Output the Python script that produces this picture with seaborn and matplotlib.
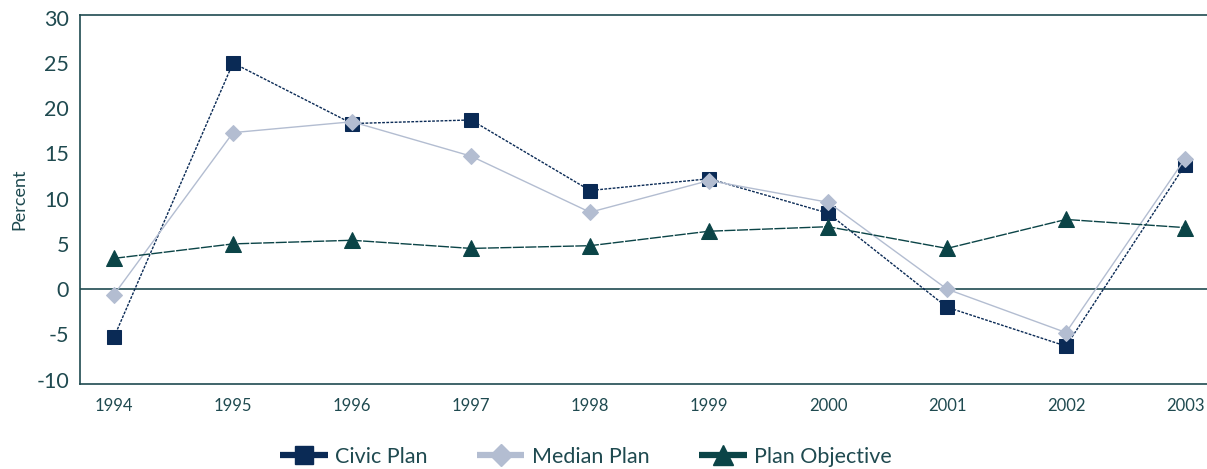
import matplotlib
matplotlib.use("Agg")
import matplotlib.pyplot as plt
import seaborn as sns
import pandas as pd
from matplotlib.lines import Line2D

years = [1994, 1995, 1996, 1997, 1998, 1999, 2000, 2001, 2002, 2003]
civic_plan = [-5.3, 25.0, 18.3, 18.7, 10.9, 12.2, 8.4, -2.0, -6.3, 13.7]
median_plan = [-0.6, 17.3, 18.5, 14.7, 8.5, 12.0, 9.6, 0.0, -4.8, 14.4]
plan_objective = [3.4, 5.0, 5.4, 4.5, 4.8, 6.4, 6.9, 4.5, 7.7, 6.8]
series_names = ["Civic Plan", "Median Plan", "Plan Objective"]
y_ticks = [-10, -5, 0, 5, 10, 15, 20, 25, 30]

sns.set_style("white")
plt.rcParams["font.family"] = ["Lato", "DejaVu Sans"]

text_color = "#1f4a50"
colors = {"Civic Plan": "#0a2a55", "Median Plan": "#b3bdd1", "Plan Objective": "#0b4447"}
markers = {"Civic Plan": "s", "Median Plan": "D", "Plan Objective": "^"}
msizes = {"Civic Plan": 10, "Median Plan": 8.5, "Plan Objective": 11}
lstyles = {"Civic Plan": (0, (2, 1)), "Median Plan": "-", "Plan Objective": (0, (8, 1))}

df = pd.DataFrame({
    "Year": years * 3,
    "Value": civic_plan + median_plan + plan_objective,
    "Series": [s for s in series_names for _ in years],
})

fig = plt.figure(figsize=(12.07, 4.69), dpi=100)
ax = fig.add_axes([0.0663, 0.181, 0.9337, 0.787])

ax.axhline(0, color=text_color, lw=1.2, zorder=1)

for name in series_names:
    sub = df[df["Series"] == name]
    sns.lineplot(data=sub, x="Year", y="Value", ax=ax, color=colors[name],
                 marker=markers[name], markersize=msizes[name],
                 markeredgecolor=colors[name], linewidth=1.0,
                 linestyle=lstyles[name], legend=False, zorder=3)

ax.set_xlim(1993.714, 2003.185)
ax.set_ylim(-10.5, 30.3)
ax.set_xticks(years)
ax.set_xticklabels([str(y) for y in years], fontsize=12, color=text_color)
ax.set_yticks(y_ticks)
ax.set_yticklabels([str(v) for v in y_ticks], fontsize=15.5, color=text_color)
ax.tick_params(axis="both", direction="in", length=15, width=1.2, color=text_color)
ax.tick_params(axis="x", pad=10)
ax.tick_params(axis="y", pad=8)
ax.set_xlabel("")
ax.set_ylabel("Percent", fontsize=13, color=text_color, labelpad=6)

for side in ["left", "bottom", "top"]:
    ax.spines[side].set_color(text_color)
    ax.spines[side].set_linewidth(1.2)
ax.spines["right"].set_visible(False)

handles = [Line2D([0], [0], color=colors[n], lw=4.5, marker=markers[n],
                  markersize=msizes[n] + 3, markeredgecolor=colors[n],
                  solid_capstyle="butt")
           for n in series_names]
fig.legend(handles, series_names, loc="center", bbox_to_anchor=(0.4855, 0.026),
           ncol=3, frameon=False, fontsize=15.5, handlelength=2.2,
           handletextpad=0.35, columnspacing=2.3, labelcolor=text_color)

fig.savefig("out.png", dpi=100)
